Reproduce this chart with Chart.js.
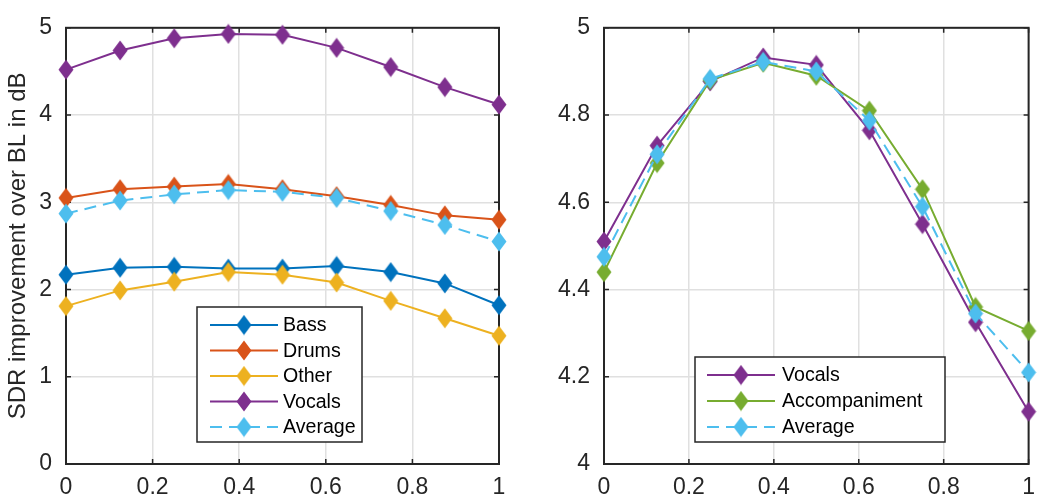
<!DOCTYPE html>
<html>
<head>
<meta charset="utf-8">
<script src="https://cdn.jsdelivr.net/npm/chart.js@4.4.0/dist/chart.umd.min.js"></script>
<style>
  html, body { margin: 0; padding: 0; background: #fff; }
  #wrap { position: relative; width: 1045px; height: 497px; overflow: hidden; }
  .painel { position: absolute; top: 0; height: 497px; }
  #esq { left: 0; width: 520px; }
  #dir { left: 520px; width: 525px; }
</style>
</head>
<body>
<div id="wrap">
  <div class="painel" id="esq"><canvas id="grafico-fontes" width="520" height="497"></canvas></div>
  <div class="painel" id="dir"><canvas id="grafico-vocais" width="525" height="497"></canvas></div>
</div>
<script>
// ===================== DADOS =====================
const xs = [0, 0.125, 0.25, 0.375, 0.5, 0.625, 0.75, 0.875, 1];
const xTicks = [0, 0.2, 0.4, 0.6, 0.8, 1];
const yTicksEsq = [0, 1, 2, 3, 4, 5];
const yTicksDir = [4, 4.2, 4.4, 4.6, 4.8, 5];

// painel esquerdo: quatro fontes
const bass = [2.17, 2.25, 2.26, 2.24, 2.24, 2.27, 2.20, 2.07, 1.82];
const drums = [3.05, 3.15, 3.18, 3.21, 3.15, 3.07, 2.97, 2.85, 2.80];
const other = [1.81, 1.99, 2.09, 2.20, 2.17, 2.08, 1.87, 1.67, 1.47];
const vocals4 = [4.52, 4.74, 4.88, 4.93, 4.92, 4.77, 4.55, 4.32, 4.12];
const average4 = [2.87, 3.02, 3.09, 3.14, 3.12, 3.05, 2.90, 2.74, 2.55];

// painel direito: vocais / acompanhamento
const vocals2 = [4.51, 4.73, 4.877, 4.932, 4.915, 4.765, 4.55, 4.325, 4.12];
const accomp = [4.44, 4.69, 4.88, 4.92, 4.89, 4.81, 4.63, 4.36, 4.305];
const average2 = [4.475, 4.71, 4.883, 4.922, 4.90, 4.787, 4.59, 4.345, 4.21];

const cores = {
    bass: "#0072BD", drums: "#D95319", other: "#EDB120",
    vocals: "#7E2F8E", average: "#4DBEEE", accomp: "#77AC30"
};

Chart.defaults.font.family = "'Liberation Sans', Arial, sans-serif";
Chart.defaults.color = "#262626";

// marcador losango (um pouco mais alto que largo)
function diamante(cor) {
    const c = document.createElement("canvas");
    c.width = 16; c.height = 21;
    const g = c.getContext("2d");
    g.beginPath();
    g.moveTo(8, 0.5); g.lineTo(15.5, 10.5); g.lineTo(8, 20.5); g.lineTo(0.5, 10.5);
    g.closePath();
    g.fillStyle = cor;
    g.fill();
    return c;
}

function serie(label, valores, cor, ordem, tracejado) {
    return {
        label,
        data: valores.map((v, i) => ({ x: xs[i], y: v })),
        borderColor: cor,
        backgroundColor: cor,
        borderWidth: 2,
        borderDash: tracejado ? [12, 7] : [],
        pointStyle: diamante(cor),
        pointRadius: 9,
        pointHoverRadius: 9,
        order: ordem,
        clip: false,
        tension: 0
    };
}

// caixa dos eixos + marcas para dentro nos quatro lados
const moldura = {
    id: "moldura",
    beforeDatasetsDraw(chart) {
        const { ctx, chartArea: a, scales: { x, y } } = chart;
        ctx.save();
        ctx.strokeStyle = "#262626";
        ctx.lineWidth = 1.5;
        ctx.beginPath();
        x.ticks.forEach(t => {
            const px = x.getPixelForValue(t.value);
            ctx.moveTo(px, a.bottom); ctx.lineTo(px, a.bottom - 5);
            ctx.moveTo(px, a.top); ctx.lineTo(px, a.top + 5);
        });
        y.ticks.forEach(t => {
            const py = y.getPixelForValue(t.value);
            ctx.moveTo(a.left, py); ctx.lineTo(a.left + 5, py);
            ctx.moveTo(a.right, py); ctx.lineTo(a.right - 5, py);
        });
        ctx.stroke();
        ctx.lineWidth = 2;
        ctx.strokeRect(a.left, a.top, a.right - a.left, a.bottom - a.top);
        ctx.restore();
    }
};

// legenda desenhada dentro da área do gráfico
const legenda = {
    id: "legenda",
    afterDraw(chart, args, o) {
        const ctx = chart.ctx;
        ctx.save();
        ctx.fillStyle = "#fff";
        ctx.fillRect(o.x, o.y, o.w, o.h);
        ctx.strokeStyle = "#262626";
        ctx.lineWidth = 1.5;
        ctx.strokeRect(o.x, o.y, o.w, o.h);
        chart.data.datasets.forEach((ds, i) => {
            const cy = o.y0 + i * o.passo;
            ctx.strokeStyle = ds.borderColor;
            ctx.lineWidth = 2;
            ctx.setLineDash(ds.borderDash);
            ctx.beginPath();
            ctx.moveTo(o.linha[0], cy);
            ctx.lineTo(o.linha[1], cy);
            ctx.stroke();
            ctx.setLineDash([]);
            ctx.drawImage(ds.pointStyle, o.marca - 8, cy - 10.5);
            ctx.fillStyle = "#000";
            ctx.font = "19.6px 'Liberation Sans', Arial, sans-serif";
            ctx.textBaseline = "middle";
            ctx.fillText(ds.label, o.texto, cy + 1);
        });
        ctx.restore();
    }
};

function eixos(yTicks, yMin, yMax, larguraY, tituloY) {
    return {
        x: {
            type: "linear", min: 0, max: 1,
            afterBuildTicks: s => { s.ticks = xTicks.map(v => ({ value: v })); },
            afterFit: s => { s.height = 33; },
            ticks: { callback: v => String(v), padding: 10, font: { size: 23 }, maxRotation: 0 },
            grid: { color: "#e0e0e0", lineWidth: 1.5, drawTicks: false },
            border: { display: false }
        },
        y: {
            type: "linear", min: yMin, max: yMax,
            afterBuildTicks: s => { s.ticks = yTicks.map(v => ({ value: v })); },
            afterFit: s => { s.width = larguraY; },
            ticks: { callback: v => String(v), padding: 14, font: { size: 23 } },
            grid: { color: "#e0e0e0", lineWidth: 1.5, drawTicks: false },
            border: { display: false },
            title: {
                display: !!tituloY, text: tituloY || "",
                font: { size: 24 }, padding: { top: 4, bottom: 0 }
            }
        }
    };
}

// ===================== PAINEL ESQUERDO =====================
new Chart(document.getElementById("grafico-fontes").getContext("2d"), {
    type: "line",
    data: {
        datasets: [
            serie("Bass", bass, cores.bass, 5, false),
            serie("Drums", drums, cores.drums, 4, false),
            serie("Other", other, cores.other, 3, false),
            serie("Vocals", vocals4, cores.vocals, 2, false),
            serie("Average", average4, cores.average, 1, true)
        ]
    },
    options: {
        responsive: false,
        animation: false,
        layout: { padding: { left: 0, top: 19, right: 21, bottom: 0 } },
        scales: eixos(yTicksEsq, 0, 5, 66, "SDR improvement over BL in dB"),
        plugins: {
            legend: { display: false },
            tooltip: { enabled: false },
            legenda: { x: 197, y: 307, w: 165, h: 135, y0: 325, passo: 25.5, linha: [210, 278], marca: 244, texto: 283 }
        }
    },
    plugins: [moldura, legenda]
});

// ===================== PAINEL DIREITO =====================
new Chart(document.getElementById("grafico-vocais").getContext("2d"), {
    type: "line",
    data: {
        datasets: [
            serie("Vocals", vocals2, cores.vocals, 3, false),
            serie("Accompaniment", accomp, cores.accomp, 2, false),
            serie("Average", average2, cores.average, 1, true)
        ]
    },
    options: {
        responsive: false,
        animation: false,
        layout: { padding: { left: 0, top: 19, right: 8, bottom: 0 } },
        scales: eixos(yTicksDir, 4, 5, 84, null),
        plugins: {
            legend: { display: false },
            tooltip: { enabled: false },
            legenda: { x: 175, y: 357, w: 250, h: 85, y0: 375, passo: 26, linha: [187, 255], marca: 221, texto: 262 }
        }
    },
    plugins: [moldura, legenda]
});
</script>
</body>
</html>
